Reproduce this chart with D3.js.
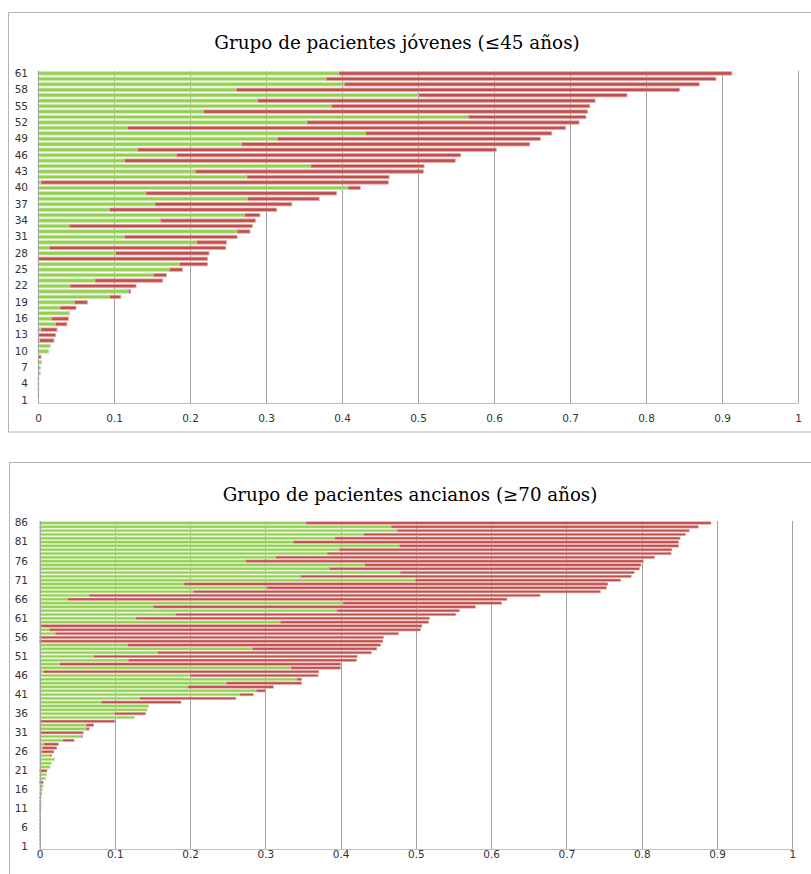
<!DOCTYPE html>
<html>
<head>
<meta charset="utf-8">
<script src="https://cdn.jsdelivr.net/npm/d3@7/dist/d3.min.js"></script>
<style>
  body { margin: 0; background: #fff; }
  svg { display: block; }
</style>
</head>
<body>
<svg id="chart" width="811" height="874"></svg>
<script>
// Patient 1 .. N, stacked: green segment then red segment
const youngGreen = [
  0, 0, 0, 0, 0, 0.003, 0.003, 0.005, 0.001, 0.014,
  0.016, 0.002, 0.001, 0.004, 0.023, 0.018, 0.040, 0.029, 0.048, 0.094,
  0.119, 0.042, 0.075, 0.152, 0.173, 0.186, 0, 0.102, 0.015, 0.209,
  0.114, 0.262, 0.041, 0.161, 0.272, 0.094, 0.154, 0.276, 0.142, 0.408,
  0.004, 0.275, 0.207, 0.359, 0.114, 0.182, 0.131, 0.268, 0.315, 0.431,
  0.118, 0.354, 0.566, 0.218, 0.386, 0.289, 0.501, 0.261, 0.403, 0.379,
  0.396
];
const youngRed = [
  0, 0.001, 0.001, 0.001, 0.001, 0, 0, 0, 0.003, 0,
  0, 0.019, 0.022, 0.021, 0.015, 0.022, 0.001, 0.021, 0.017, 0.015,
  0.003, 0.087, 0.089, 0.017, 0.017, 0.037, 0.223, 0.123, 0.232, 0.039,
  0.148, 0.017, 0.241, 0.125, 0.020, 0.220, 0.180, 0.094, 0.251, 0.016,
  0.457, 0.187, 0.300, 0.149, 0.435, 0.374, 0.472, 0.379, 0.346, 0.245,
  0.576, 0.358, 0.155, 0.505, 0.340, 0.444, 0.274, 0.583, 0.467, 0.513,
  0.517
];
const elderGreen = [
  0.001, 0, 0, 0, 0, 0, 0, 0, 0, 0,
  0, 0, 0, 0, 0.002, 0.004, 0.005, 0, 0.008, 0.009,
  0, 0.014, 0.016, 0.020, 0.014, 0.003, 0.004, 0.006, 0.031, 0.055,
  0.001, 0.062, 0.062, 0.001, 0.126, 0.100, 0.143, 0.145, 0.082, 0.133,
  0.266, 0.288, 0.197, 0.248, 0.342, 0.200, 0.005, 0.334, 0.027, 0.118,
  0.072, 0.157, 0.283, 0.117, 0, 0, 0.021, 0.013, 0.002, 0.320,
  0.128, 0.181, 0.395, 0.151, 0.403, 0.037, 0.066, 0.204, 0.302, 0.192,
  0.499, 0.347, 0.479, 0.385, 0.432, 0.274, 0.314, 0.382, 0.398, 0.478,
  0.337, 0.392, 0.431, 0.475, 0.467, 0.354
];
const elderRed = [
  0, 0.001, 0.001, 0.001, 0.001, 0.001, 0.001, 0.001, 0.001, 0.001,
  0.002, 0.002, 0.002, 0.002, 0.001, 0, 0, 0.005, 0, 0,
  0.010, 0, 0, 0, 0.002, 0.016, 0.019, 0.019, 0.015, 0.002,
  0.057, 0.004, 0.010, 0.099, 0, 0.041, 0, 0, 0.106, 0.128,
  0.018, 0.012, 0.114, 0.100, 0.006, 0.170, 0.366, 0.066, 0.373, 0.303,
  0.350, 0.284, 0.165, 0.336, 0.456, 0.457, 0.456, 0.493, 0.506, 0.197,
  0.390, 0.372, 0.163, 0.428, 0.211, 0.584, 0.599, 0.541, 0.451, 0.563,
  0.273, 0.439, 0.311, 0.412, 0.367, 0.528, 0.503, 0.457, 0.442, 0.371,
  0.512, 0.459, 0.427, 0.388, 0.408, 0.538
];

const xTicks = [0, 0.1, 0.2, 0.3, 0.4, 0.5, 0.6, 0.7, 0.8, 0.9, 1];
const xTickLabels = ["0", "0.1", "0.2", "0.3", "0.4", "0.5", "0.6", "0.7", "0.8", "0.9", "1"];
const youngTitle = "Grupo de pacientes jóvenes (≤45 años)";
const elderTitle = "Grupo de pacientes ancianos (≥70 años)";
const seriesKeys = ["green", "red"];
const seriesColors = { green: "#92d050", red: "#c0504d" };
const seriesEdge = { green: "#c4e6a2", red: "#e3a9a7" };

const svg = d3.select("#chart");

function drawPanel(cfg) {
  const g = svg.append("g");
  const n = cfg.green.length;
  const rows = d3.range(n).map(i => ({ id: i + 1, green: cfg.green[i], red: cfg.red[i] }));

  // panel frame
  g.append("rect")
    .attr("x", cfg.box[0] + 0.5).attr("y", cfg.box[1] + 0.5)
    .attr("width", cfg.box[2]).attr("height", cfg.box[3])
    .attr("fill", "#fff").attr("stroke", "#b3b3b3").attr("stroke-width", 1);

  // title, sized to its span across the panel
  const title = g.append("text")
    .attr("x", cfg.titleX).attr("y", cfg.titleY)
    .attr("text-anchor", "middle")
    .attr("font-family", "'DejaVu Serif', serif")
    .attr("font-size", 18)
    .attr("fill", "#000")
    .text(cfg.title);
  const w = title.node().getComputedTextLength();
  title.attr("font-size", (18 * cfg.titleWidth / w).toFixed(2));

  const x = d3.scaleLinear().domain([0, 1]).range([cfg.left, cfg.right]);
  const y = d3.scaleBand()
    .domain(d3.range(n, 0, -1))
    .range([cfg.top, cfg.bottom])
    .paddingInner(cfg.pad).paddingOuter(cfg.pad / 2);

  // vertical gridlines
  g.append("g").selectAll("line")
    .data(xTicks.filter(t => t > 0))
    .join("line")
    .attr("x1", d => Math.round(x(d)) + 0.5).attr("x2", d => Math.round(x(d)) + 0.5)
    .attr("y1", cfg.top).attr("y2", cfg.bottom)
    .attr("stroke", "#a0a0a0").attr("stroke-width", 1);

  // stacked bars
  const stacked = d3.stack().keys(seriesKeys)(rows);
  const bh = y.bandwidth();
  g.append("g").selectAll("g")
    .data(stacked)
    .join("g")
    .attr("fill", d => seriesColors[d.key])
    .attr("stroke", d => seriesEdge[d.key])
    .attr("stroke-width", cfg.edge)
    .selectAll("rect")
    .data(d => d.filter(s => s[1] - s[0] > 0))
    .join("rect")
    .attr("x", s => x(s[0]))
    .attr("y", s => y(s.data.id))
    .attr("width", s => Math.max(0.6, x(s[1]) - x(s[0])))
    .attr("height", bh);

  // axis lines
  g.append("line")
    .attr("x1", Math.round(cfg.left) + 0.5).attr("x2", Math.round(cfg.left) + 0.5)
    .attr("y1", cfg.top).attr("y2", cfg.bottom + 0.5)
    .attr("stroke", "#a6a6a6");
  g.append("line")
    .attr("x1", cfg.left).attr("x2", cfg.right)
    .attr("y1", Math.round(cfg.bottom) + 0.5).attr("y2", Math.round(cfg.bottom) + 0.5)
    .attr("stroke", "#bfbfbf");

  // x tick labels
  const xAxis = d3.axisBottom(x).tickValues(xTicks).tickSize(0)
    .tickFormat((d, i) => xTickLabels[i]);
  const xa = g.append("g")
    .attr("transform", `translate(0,${cfg.xLabelY})`)
    .call(xAxis);
  xa.select(".domain").remove();
  xa.selectAll("text")
    .attr("font-family", "'DejaVu Sans', sans-serif")
    .attr("font-size", 10.5).attr("fill", "#333");

  // y tick labels, every few patients
  const yTicks = d3.range(n, 0, -cfg.step);
  const yAxis = d3.axisLeft(y).tickValues(yTicks).tickSize(0).tickPadding(0);
  const ya = g.append("g")
    .attr("transform", `translate(${cfg.yLabelX},0)`)
    .call(yAxis);
  ya.select(".domain").remove();
  ya.selectAll("text")
    .attr("font-family", "'DejaVu Sans', sans-serif")
    .attr("font-size", 10.5).attr("fill", "#333");
}

drawPanel({
  box: [8, 12, 812, 419.5],
  title: youngTitle, titleX: 397, titleY: 49, titleWidth: 366,
  green: youngGreen, red: youngRed,
  left: 38, right: 798, top: 70.7, bottom: 403.2,
  pad: 0.38, edge: 0.8, step: 3,
  xLabelY: 412, yLabelX: 28
});

drawPanel({
  box: [9, 462, 812, 420],
  title: elderTitle, titleX: 410, titleY: 501, titleWidth: 375,
  green: elderGreen, red: elderRed,
  left: 39.5, right: 792.3, top: 521.1, bottom: 849,
  pad: 0.35, edge: 0.6, step: 5,
  xLabelY: 848, yLabelX: 28
});
</script>
</body>
</html>
